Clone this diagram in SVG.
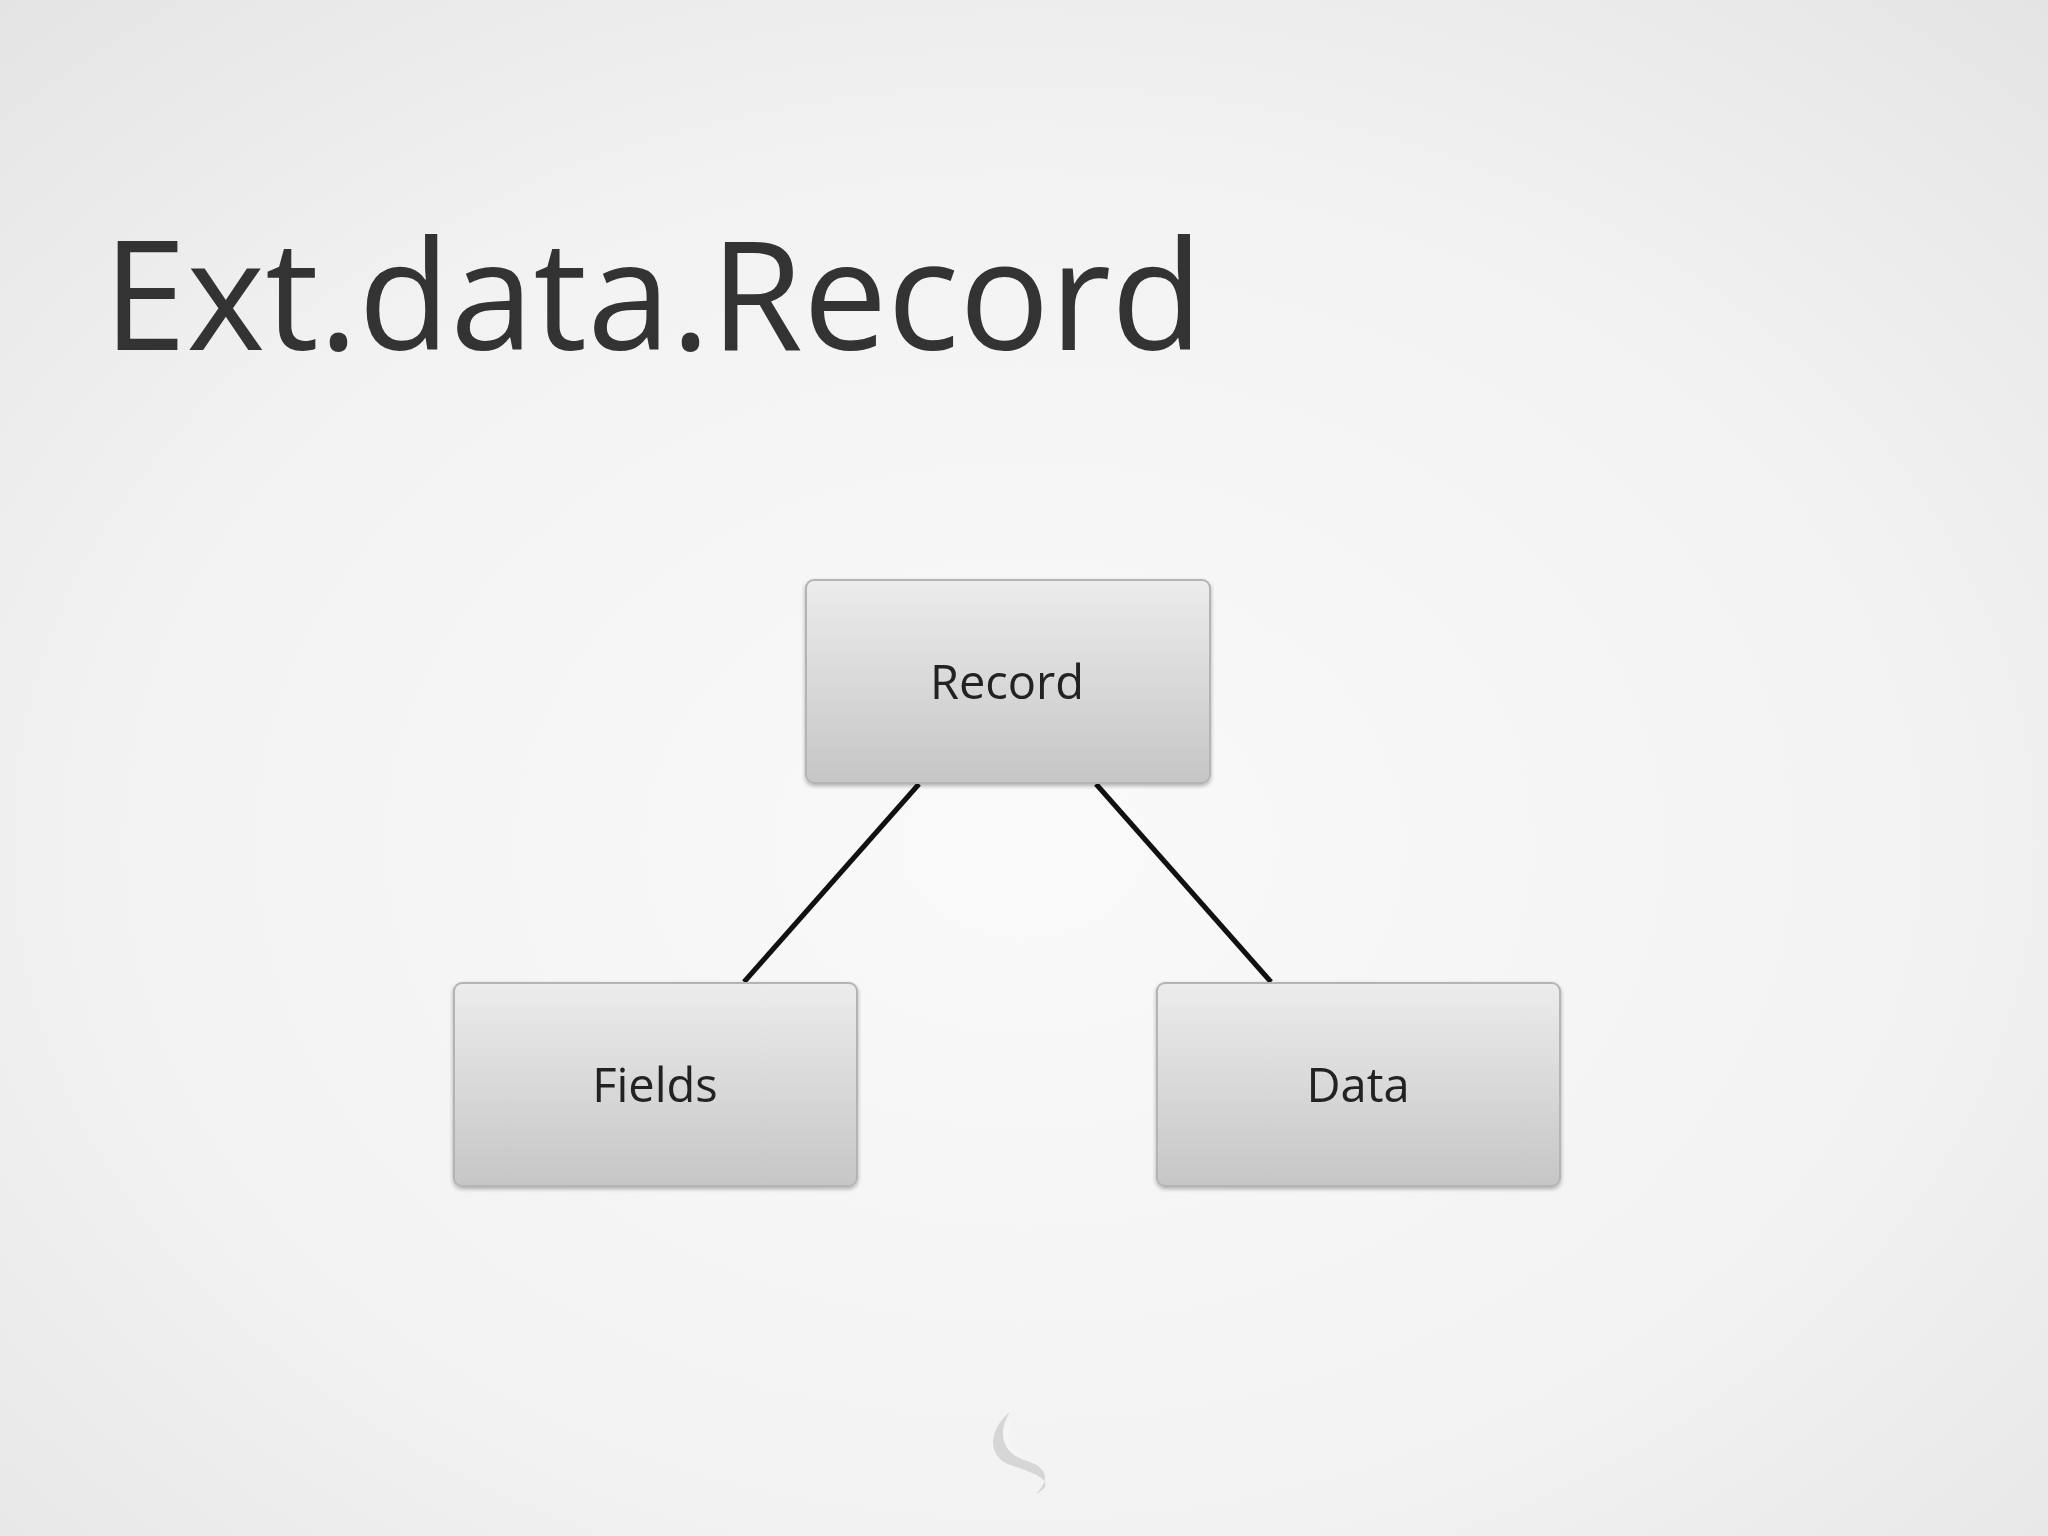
<svg xmlns="http://www.w3.org/2000/svg" width="2048" height="1536" viewBox="0 0 2048 1536">
<defs>
<radialGradient id="bg" cx="50%" cy="55%" r="75%">
<stop offset="0" stop-color="#fafafa"/>
<stop offset="0.6" stop-color="#f2f2f2"/>
<stop offset="1" stop-color="#e4e4e4"/>
</radialGradient>
<linearGradient id="box" x1="0" y1="0" x2="0" y2="1">
<stop offset="0" stop-color="#ececec"/>
<stop offset="1" stop-color="#c6c6c6"/>
</linearGradient>
<filter id="sh" x="-10%" y="-10%" width="120%" height="130%">
<feGaussianBlur in="SourceAlpha" stdDeviation="2"/>
<feOffset dy="2"/>
<feComponentTransfer><feFuncA type="linear" slope="0.3"/></feComponentTransfer>
<feMerge><feMergeNode/><feMergeNode in="SourceGraphic"/></feMerge>
</filter>
</defs>
<style>
.box{fill:url(#box);stroke:#b4b4b4;stroke-width:2}
.lbl{font-family:"Open Sans","DejaVu Sans",sans-serif;font-size:47px;fill:#222;text-anchor:middle}
.conn{stroke:#111;stroke-width:5;fill:none;stroke-linecap:butt}
</style>
<rect width="2048" height="1536" fill="url(#bg)"/>
<text id="title" x="103" y="350" font-family="'Open Sans','DejaVu Sans',sans-serif" font-size="152" fill="#333" textLength="1100" lengthAdjust="spacingAndGlyphs">Ext.data.Record</text>
<g id="connectors">
<line class="conn" x1="919" y1="784" x2="744" y2="982"/>
<line class="conn" x1="1096" y1="784" x2="1271" y2="982"/>
</g>
<g id="record" filter="url(#sh)">
<rect class="box" x="806" y="580" width="404" height="203" rx="8"/>
<text class="lbl" x="1007" y="699">Record</text>
</g>
<g id="fields" filter="url(#sh)">
<rect class="box" x="454" y="983" width="403" height="203" rx="8"/>
<text class="lbl" x="655" y="1102">Fields</text>
</g>
<g id="data" filter="url(#sh)">
<rect class="box" x="1157" y="983" width="403" height="203" rx="8"/>
<text class="lbl" x="1358" y="1102">Data</text>
</g>
<g id="logo">
<path d="M1010 1412 C990 1428 985 1455 1010 1465 C1038 1474 1058 1482 1036 1494 C1052 1478 1046 1466 1024 1460 C1000 1452 998 1430 1010 1412 Z" fill="#d6d6d6"/>
<path d="M1012 1418 C1004 1432 1004 1450 1022 1456" stroke="#f6f6f6" stroke-width="3" fill="none"/>
</g>
</svg>
